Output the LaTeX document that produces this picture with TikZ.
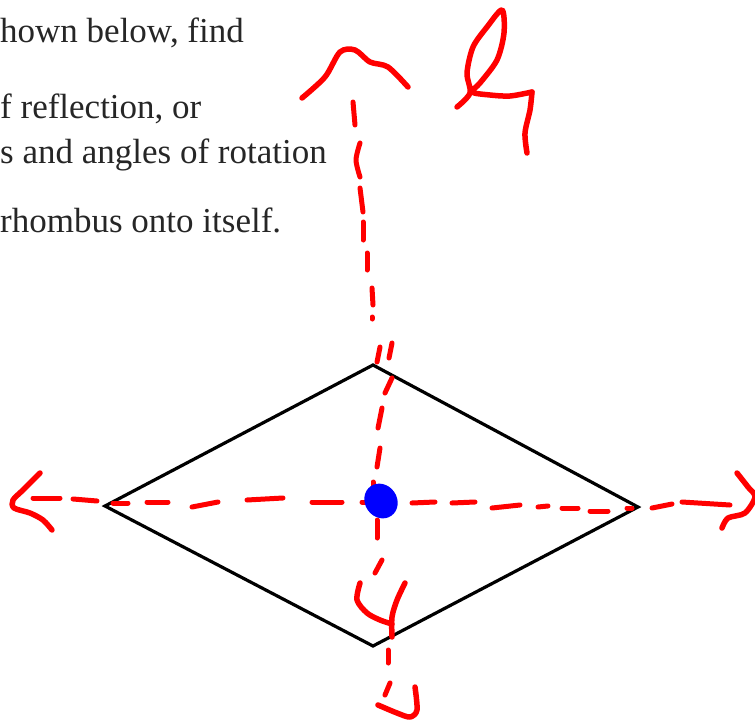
\documentclass[tikz,border=0pt]{standalone}
\usepackage{fontspec}
\setmainfont{Liberation Serif}
\usetikzlibrary{calc}
\tikzset{ink/.style={draw=red,line width=5.5pt,line cap=round,line join=round},
  dashink/.style={ink,line width=5pt},
  side/.style={draw=black,line width=3.2pt,line join=miter},
  prose/.style={anchor=base west,inner sep=0pt,text=black!85,font=\fontsize{35}{40}\selectfont}}

\begin{document}
\begin{tikzpicture}[x=1pt,y=-1pt]
\useasboundingbox (0,0) rectangle (755,723);
% question text, cut off on the left
\node[prose] (q1) at (0,42){hown below, find};
\node[prose] (q2) at (0,118){f reflection, or};
\node[prose] (q3) at (0,163){s and angles of rotation};
\node[prose] (q4) at (0,232){rhombus onto itself.};
% rhombus
\coordinate (T) at (373,365); \coordinate (L) at (105,506); \coordinate (R) at (638,507); \coordinate (B) at (373,646);
\draw[side] (T)--(R)--(B)--(L)--cycle;
% horizontal line, drawn by hand
\foreach \xa/\ya/\xb/\yb in {33/498/60/498, 73/499/97/501, 113/503/128/503, 147/502/168/502, 192/507/218/502, 247/500/283/498, 312/502/342/502, 362/502/366/502, 412/503/435/502, 452/503/475/502, 492/508/520/505, 538/507/548/506, 562/508/578/508, 590/511/608/511, 627/508/632/508, 652/508/672/504, 682/502/730/505}
  \draw[dashink] (\xa,\ya)--(\xb,\yb);
\draw[ink] plot[smooth] coordinates {(40,473) (23,490) (13,500) (14,508) (30,513) (43,520) (52,530)};
\draw[ink] plot[smooth] coordinates {(737,473) (748,487) (755,497) (745,513) (728,518) (722,528)};
% vertical line
\foreach \xa/\ya/\xb/\yb in {353/102/355/125, 360/188/363/212, 363/222/363/240, 367/253/367/270, 372/288/373/305, 372/317/372/319, 380/347/377/362, 392/343/389/358, 392/378/385/393, 382/408/378/428, 380/448/377/467, 373/482/373/485, 377/520/377/538, 382/560/375/573, 388/650/388/663, 390/683/385/695}
  \draw[dashink] (\xa,\ya)--(\xb,\yb);
\draw[dashink] plot[smooth] coordinates {(360,143) (356,160) (360,177)};
\draw[ink] plot[smooth] coordinates {(302,98) (325,77) (340,52) (355,50) (370,62) (388,67) (408,87)};
\draw[ink] plot[smooth] coordinates {(378,705) (397,713) (410,717) (417,710) (415,687)};
\draw[ink] plot[smooth] coordinates {(360,583) (357,600) (367,613) (380,620) (392,624)};
\draw[ink] plot[smooth] coordinates {(405,583) (397,600) (392,617) (392,637)};
% label l1
\draw[ink] plot[smooth] coordinates {(457,107) (470,93) (467,73) (473,47) (487,27) (502,10) (504,33) (497,60) (480,83) (472,92) (490,95) (510,96) (532,92)};
\draw[ink] plot[smooth] coordinates {(532,92) (530,110) (525,133) (527,153)};
% centre
\coordinate (O) at (381,501);
\fill[blue,rotate around={35:(O)}] (O) ellipse (16 and 18);
\end{tikzpicture}
\end{document}
